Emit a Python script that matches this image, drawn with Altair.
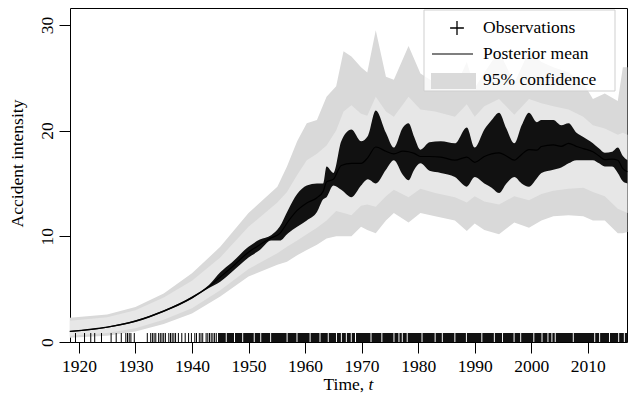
import altair as alt
import pandas as pd

# ---------------- data ----------------
band_years = [1918.4, 1925, 1930, 1935, 1940, 1945, 1950, 1955.1, 1956.8, 1958.6,
              1960.3, 1962.1, 1963.8, 1965.5, 1966.8, 1968.2, 1969.9, 1971.0, 1972.5, 1974.3,
              1975.7, 1978.3, 1980.4, 1983.0, 1986.5, 1988.6, 1990.0, 1991.7, 1994.3, 1997.0,
              1999.6, 2001.8, 2003.9, 2006.6, 2009.2, 2010.9, 2013.0, 2015.3, 2016.2, 2017.0]
outer_lo = [0.4, 0.6, 1.0, 1.7, 2.7, 4.3, 6.2, 7.3, 7.6, 8.2,
            8.7, 9.2, 9.8, 10.0, 10.0, 10.0, 10.9, 10.6, 10.3, 11.5,
            12.2, 11.3, 12.2, 11.9, 11.5, 10.5, 11.2, 10.6, 10.2, 11.3,
            10.8, 11.5, 11.9, 12.0, 11.9, 11.5, 11.5, 10.3, 10.3, 10.4]
outer_hi = [2.3, 2.6, 3.3, 4.6, 6.5, 9.0, 12.2, 14.7, 16.6, 19.0,
            20.7, 21.0, 23.2, 24.2, 27.5, 27.0, 26.0, 25.5, 29.5, 25.1,
            24.8, 28.0, 25.4, 24.5, 24.0, 26.5, 24.0, 25.5, 27.5, 24.5,
            27.5, 26.5, 26.0, 25.5, 24.5, 23.0, 23.5, 22.8, 26.0, 26.0]
inner_lo = [0.6, 0.85, 1.3, 2.1, 3.2, 4.9, 6.9, 8.4, 9.0, 9.6,
            10.2, 10.8, 11.5, 12.4, 12.2, 12.0, 12.9, 13.0, 12.8, 13.8,
            14.4, 13.7, 14.5, 14.1, 13.7, 13.2, 13.8, 13.3, 13.0, 13.8,
            13.4, 14.0, 14.3, 14.5, 14.6, 14.2, 13.8, 12.6, 12.4, 12.2]
inner_hi = [2.0, 2.35, 3.0, 4.2, 5.8, 8.0, 10.9, 13.2, 14.2, 15.8,
            17.2, 17.8, 18.6, 20.0, 21.8, 22.4, 21.6, 21.4, 23.2, 21.8,
            21.3, 23.2, 22.0, 21.8, 21.3, 22.5, 21.3, 22.3, 23.0, 21.5,
            23.0, 22.6, 22.3, 22.0, 21.3, 20.5, 20.2, 19.6, 19.8, 19.6]

mean_years = [1918.4, 1925, 1930, 1935, 1940, 1943, 1945, 1947, 1950, 1952,
              1954, 1955.5, 1957, 1958.6, 1960.3, 1962.1, 1963.2, 1963.8, 1965.0, 1966.4,
              1968.2, 1969.9, 1971.1, 1972.5, 1974.3, 1975.7, 1977.3, 1978.3, 1979.3, 1980.4,
              1982, 1984, 1986.5, 1988.6, 1990.0, 1991.7, 1993, 1994.3, 1995.6, 1997.0,
              1998.3, 1999.6, 2001.0, 2001.8, 2003.9, 2005.3, 2006.6, 2008.0, 2009.2, 2010.9,
              2012.0, 2013.0, 2014.3, 2015.3, 2016.2, 2017.0]
mean_lo = [0.95, 1.35, 1.9, 2.85, 4.1, 5.1, 5.7, 6.6, 8.0, 8.7,
           9.6, 9.6, 10.3, 10.9, 11.5, 12.3, 13.5, 13.7, 14.8, 14.4,
           13.7, 14.8, 15.4, 15.0, 16.3, 17.2, 15.8, 15.3, 16.3, 16.9,
           16.2, 16.0, 15.6, 14.7, 15.6, 15.0, 14.6, 14.1, 15.0, 15.6,
           15.0, 14.7, 15.5, 16.0, 16.3, 16.5, 16.9, 17.2, 17.2, 17.2,
           16.9, 16.6, 16.6, 16.0, 15.2, 15.0]
mean_hi = [1.05, 1.45, 2.05, 3.0, 4.3, 5.4, 6.6, 7.5, 9.0, 9.7,
           10.1, 10.9, 12.5, 14.0, 14.8, 15.0, 15.0, 16.6, 16.0, 19.0,
           20.1, 19.0, 19.5, 21.9, 19.8, 18.4, 20.3, 20.7, 19.4, 18.2,
           18.9, 19.0, 18.8, 20.3, 18.4, 20.1, 21.0, 21.7, 20.2, 18.8,
           20.5, 21.7, 20.8, 21.0, 21.0, 20.5, 20.7, 19.8, 19.4, 18.8,
           18.3, 17.9, 18.0, 18.4, 17.6, 17.2]

# observation times (rug) - sparse early ones individually
obs_sparse = [1919.4, 1921.0, 1922.1, 1922.8, 1924.0, 1925.7, 1926.6, 1927.5, 1928.3, 1928.6,
              1928.9, 1929.2, 1929.8, 1932.1, 1932.7, 1933.0, 1933.3, 1933.6, 1934.1, 1934.4,
              1934.7, 1935.0, 1935.3, 1935.9, 1936.2, 1936.5, 1936.8, 1937.1, 1937.6, 1938.2,
              1938.8, 1939.4, 1939.9, 1940.5, 1940.8, 1941.3, 1941.6, 1941.9, 1942.5, 1942.8,
              1943.1, 1943.4, 1943.7, 1944.0, 1944.3]
# later observations are so dense they merge: solid run with thin white gaps
dense_start, dense_end = 1944.6, 2017.0
rug_gaps = [1946.06, 1947.52, 1948.97, 1951.01, 1952.16, 1953.91, 1956.82, 1958.57, 1960.89,
            1962.64, 1964.10, 1965.55, 1966.42, 1967.30, 1968.17, 1968.92, 1971.66, 1973.58,
            1975.72, 1976.60, 1977.19, 1978.06, 1980.68, 1983.00, 1984.27, 1986.49, 1988.53,
            1991.26, 1993.47, 1994.92, 1996.96, 1998.13, 2000.45, 2001.90, 2002.95, 2003.65,
            2004.24, 2007.43, 2011.22, 2012.09, 2013.84, 2015.46, 2016.46]
gap_w = 0.17

x_ticks = [1920, 1930, 1940, 1950, 1960, 1970, 1980, 1990, 2000, 2010]
y_ticks = [0, 10, 20, 30]

# ---------------- tables ----------------
band_df = pd.DataFrame({"year": band_years, "olo": outer_lo, "ohi": outer_hi,
                        "ilo": inner_lo, "ihi": inner_hi})
mean_df = pd.DataFrame({"year": mean_years, "lo": mean_lo, "hi": mean_hi})
obs_df = pd.DataFrame({"t": obs_sparse})
starts, ends = [dense_start], []
for g in rug_gaps:
    ends.append(g - gap_w / 2)
    starts.append(g + gap_w / 2)
ends.append(dense_end)
dense_df = pd.DataFrame({"s": starts, "e": ends})
one = pd.DataFrame({"k": [0]})

FONT = "Liberation Serif"
FS = 17.5
W, H = 557, 334
xs = alt.Scale(domain=[1918.43, 2016.93], nice=False, zero=False)
ys = alt.Scale(domain=[0, 31.6], nice=False, zero=False)

x_axis = alt.Axis(values=x_ticks, title=None, grid=False, domain=False, tickColor="black",
                  tickSize=11, tickWidth=1, labelFont=FONT, labelFontSize=FS, labelColor="black",
                  labelPadding=4, labelFlush=False, format="d")
y_axis = alt.Axis(values=y_ticks, title="Accident intensity", grid=False, domain=False,
                  tickColor="black", tickSize=11, tickWidth=1, labelFont=FONT, labelFontSize=FS,
                  labelColor="black", labelAngle=270, labelAlign="center", labelBaseline="bottom",
                  labelPadding=3, titleFont=FONT, titleFontSize=FS, titleFontWeight="normal",
                  titleColor="black", titlePadding=12, titleY=155)


def X(field):
    return alt.X(field, type="quantitative", scale=xs, axis=x_axis)


def Y(field):
    return alt.Y(field, type="quantitative", scale=ys, axis=y_axis)


outer = alt.Chart(band_df).mark_area(color="#d9d9d9").encode(
    x=X("year"), y=Y("olo"), y2="ohi:Q")
inner = alt.Chart(band_df).mark_area(color="#e7e7e7").encode(
    x=X("year"), y=Y("ilo"), y2="ihi:Q")
mean_band = alt.Chart(mean_df).mark_area(color="#111111", interpolate="monotone").encode(
    x=X("year"), y=Y("lo"), y2="hi:Q")
mean_line = alt.Chart(mean_df).transform_calculate(mid="(datum.lo + datum.hi) / 2").mark_line(
    color="black", strokeWidth=1.2, interpolate="monotone").encode(x=X("year"), y=Y("mid"))
rug = alt.Chart(obs_df).transform_calculate(r0="0", r1="0.85").mark_rule(
    color="black", strokeWidth=1).encode(x=X("t"), y=Y("r0"), y2="r1:Q")
rug_dense = alt.Chart(dense_df).transform_calculate(r0="0", r1="0.85").mark_rect(
    color="#111111").encode(x=X("s"), x2="e:Q", y=Y("r0"), y2="r1:Q")

# legend (drawn manually, pixel positions inside the plot area)
LX = W - 203
leg_box = alt.Chart(one).mark_rect(fill="white", fillOpacity=0.8, stroke="#cfcfcf",
                                   strokeWidth=1).encode(
    x=alt.value(LX), x2=alt.value(LX + 191), y=alt.value(2), y2=alt.value(83))
leg_cross = alt.Chart(one).mark_point(shape="M-1,0H1M0,-1V1", filled=False, color="black",
                                      strokeWidth=1.3, size=190, opacity=1).encode(
    x=alt.value(LX + 33), y=alt.value(20))
leg_line = alt.Chart(one).mark_rule(color="black", strokeWidth=1.2).encode(
    x=alt.value(LX + 8), x2=alt.value(LX + 49), y=alt.value(46))
leg_swatch = alt.Chart(one).mark_rect(color="#dadada").encode(
    x=alt.value(LX + 7), x2=alt.value(LX + 52), y=alt.value(65), y2=alt.value(81))
leg_texts = []
for label, yy in [("Observations", 20), ("Posterior mean", 46), ("95% confidence", 72)]:
    leg_texts.append(alt.Chart(one).mark_text(text=label, font=FONT, fontSize=FS, align="left",
                                              baseline="middle", color="black").encode(
        x=alt.value(LX + 59), y=alt.value(yy)))

x_title1 = alt.Chart(one).mark_text(text="Time,", font=FONT, fontSize=FS, align="left",
                                    baseline="alphabetic", color="black").encode(
    x=alt.value(W / 2 - 25), y=alt.value(382))
x_title2 = alt.Chart(one).mark_text(text="t", font=FONT, fontSize=FS, fontStyle="italic",
                                    align="left", baseline="alphabetic", color="black").encode(
    x=alt.value(W / 2 + 20), y=alt.value(382))

chart = alt.layer(outer, inner, mean_band, mean_line, rug, rug_dense,
                  leg_box, leg_cross, leg_line, leg_swatch, *leg_texts,
                  x_title1, x_title2).properties(
    width=W, height=H,
    autosize=alt.AutoSizeParams(type="none"),
    padding={"left": 62, "top": 0, "right": 1, "bottom": 52},
    background="white",
).configure_view(stroke="black", strokeWidth=1)

chart.save("out.html", embed_options={"renderer": "svg", "actions": False})
